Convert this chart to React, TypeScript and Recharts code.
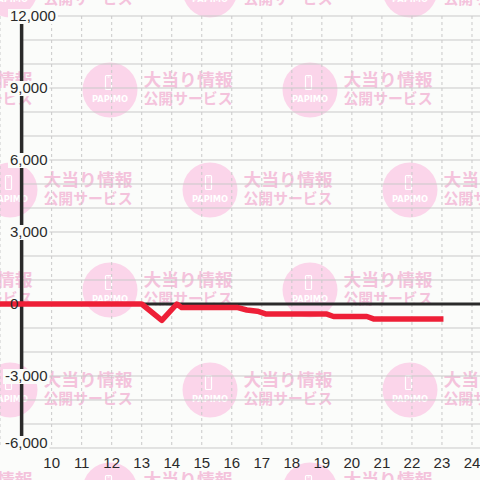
import React from 'react';
import { LineChart, Line, XAxis, YAxis, CartesianGrid, ReferenceLine } from 'recharts';

// ---- data ----
const hours = [8, 13.0, 13.67, 14.17, 14.33, 16.2, 16.5, 16.85, 17.15, 19.17, 19.39, 20.5, 20.72, 23.05];
const values = [0, 0, -680, 0, -150, -150, -250, -300, -420, -420, -520, -520, -620, -620];
const xTicks = [10, 11, 12, 13, 14, 15, 16, 17, 18, 19, 20, 21, 22, 23, 24];
const yTicks = [-6000, -3000, 0, 3000, 6000, 9000, 12000];
const yGrid = [-6000, -5000, -4000, -3000, -2000, -1000, 1000, 2000, 3000, 4000, 5000, 6000, 7000, 8000, 9000, 10000, 11000, 12000];

const X_MIN = 8.28;
const X_MAX = 24.5;
const X_AXIS_AT = 9;
const Y_MIN = -6000;
const Y_MAX = 12000;

const data = hours.map((t, i) => ({ t, v: values[i] }));

const BG = '#fbfcfa';
const RED = '#ee1f37';
const DARK = '#2a2a2a';
const GRID = '#c9c9c9';
const PINK_CIRCLE = '#fbd5ea';
const PINK_TEXT = '#f4c3dc';

const textWidth = (s: string) => {
  let w = 0;
  for (const ch of s) {
    if (ch === ',') w += 4.17;
    else if (ch === '-') w += 5;
    else w += 8.34;
  }
  return w;
};

const YTick = (props: any) => {
  const { x, y, payload } = props;
  const v = payload.value as number;
  const label = v.toLocaleString('en-US');
  const tx = v < 0 ? x - 5 : x;
  const ty = v === Y_MIN ? y - 5 : y;
  const w = textWidth(label);
  return (
    <g>
      {v !== 0 && <rect x={tx - 2} y={ty - 7} width={w + 4} height={15} fill={BG} />}
      <text x={tx} y={ty} dy="0.36em" textAnchor="start" fontSize={15} fill={DARK}
        fontFamily="'Liberation Sans', Arial, sans-serif">{label}</text>
    </g>
  );
};

const Watermark = () => {
  const tiles: { cx: number; cy: number }[] = [];
  for (let k = 0; k < 7; k++) {
    const cy = -10 + 100 * k;
    const off = k % 2 === 0 ? 10 : 110;
    for (let cx = off - 200; cx < 560; cx += 200) tiles.push({ cx, cy });
  }
  return (
    <svg width={480} height={480} style={{ position: 'absolute', left: 0, top: 0 }}>
      <rect x={0} y={0} width={480} height={480} fill={BG} />
      {tiles.map(({ cx, cy }, i) => (
        <g key={i}>
          <circle cx={cx} cy={cy} r={27.5} fill={PINK_CIRCLE} />
          <rect x={cx - 4.5} y={cy - 14.5} width={6} height={14} rx={1} fill="none" stroke="#ffffff" strokeWidth={1.2} />
          <line x1={cx - 2.5} y1={cy - 13} x2={cx - 0.5} y2={cy - 13} stroke="#ffffff" strokeWidth={1} />
          <text x={cx - 18} y={cy + 11.5} fontSize={9} fontWeight="bold" fill="#ffffff"
            textLength={36} lengthAdjust="spacingAndGlyphs" fontFamily="'DejaVu Sans', sans-serif">PAPIMO</text>
          <text x={cx + 33.5} y={cy - 4} fontSize={17} fontWeight="bold" fill={PINK_TEXT}
            textLength={89} lengthAdjust="spacingAndGlyphs" fontFamily="'Noto Sans CJK JP', sans-serif">大当り情報</text>
          <text x={cx + 33.5} y={cy + 14} fontSize={15} fontWeight="bold" fill={PINK_TEXT}
            textLength={89} lengthAdjust="spacingAndGlyphs" fontFamily="'Noto Sans CJK JP', sans-serif">公開サービス</text>
        </g>
      ))}
    </svg>
  );
};

export default function App() {
  return (
    <div style={{ position: 'absolute', left: 0, top: 0, width: 480, height: 480, overflow: 'hidden', background: BG }}>
      <Watermark />
      <div style={{ position: 'absolute', left: 0, top: 0 }}>
        <LineChart width={487} height={480} data={data} margin={{ top: 16, right: 0, bottom: 0, left: 0 }}>
          <CartesianGrid horizontal={false} vertical stroke={GRID} strokeDasharray="3 3" />
          {yGrid.map((g) => (
            <ReferenceLine key={g} segment={[{ x: X_AXIS_AT, y: g }, { x: X_MAX, y: g }]} stroke={GRID} strokeWidth={1} />
          ))}
          <ReferenceLine segment={[{ x: X_AXIS_AT, y: 0 }, { x: X_MAX, y: 0 }]} stroke={DARK} strokeWidth={3} />
          <ReferenceLine segment={[{ x: X_AXIS_AT, y: Y_MIN }, { x: X_AXIS_AT, y: Y_MAX }]} stroke={DARK} strokeWidth={3.5} />
          <XAxis dataKey="t" type="number" domain={[X_MIN, X_MAX]} allowDataOverflow ticks={xTicks} interval={0}
            axisLine={false} tickLine={false} tickSize={0} tickMargin={9} height={32}
            tick={{ fontSize: 15, fill: DARK, fontFamily: "'Liberation Sans', Arial, sans-serif" }} />
          <Line dataKey="v" type="linear" stroke={RED} strokeWidth={5.5} dot={false} activeDot={false}
            strokeLinejoin="round" isAnimationActive={false} />
          <YAxis type="number" domain={[Y_MIN, Y_MAX]} ticks={yTicks} interval={0} mirror width={1}
            axisLine={false} tickLine={false} tickSize={0} tickMargin={10}
            tick={(p: any) => <YTick {...p} />} />
        </LineChart>
      </div>
    </div>
  );
}
